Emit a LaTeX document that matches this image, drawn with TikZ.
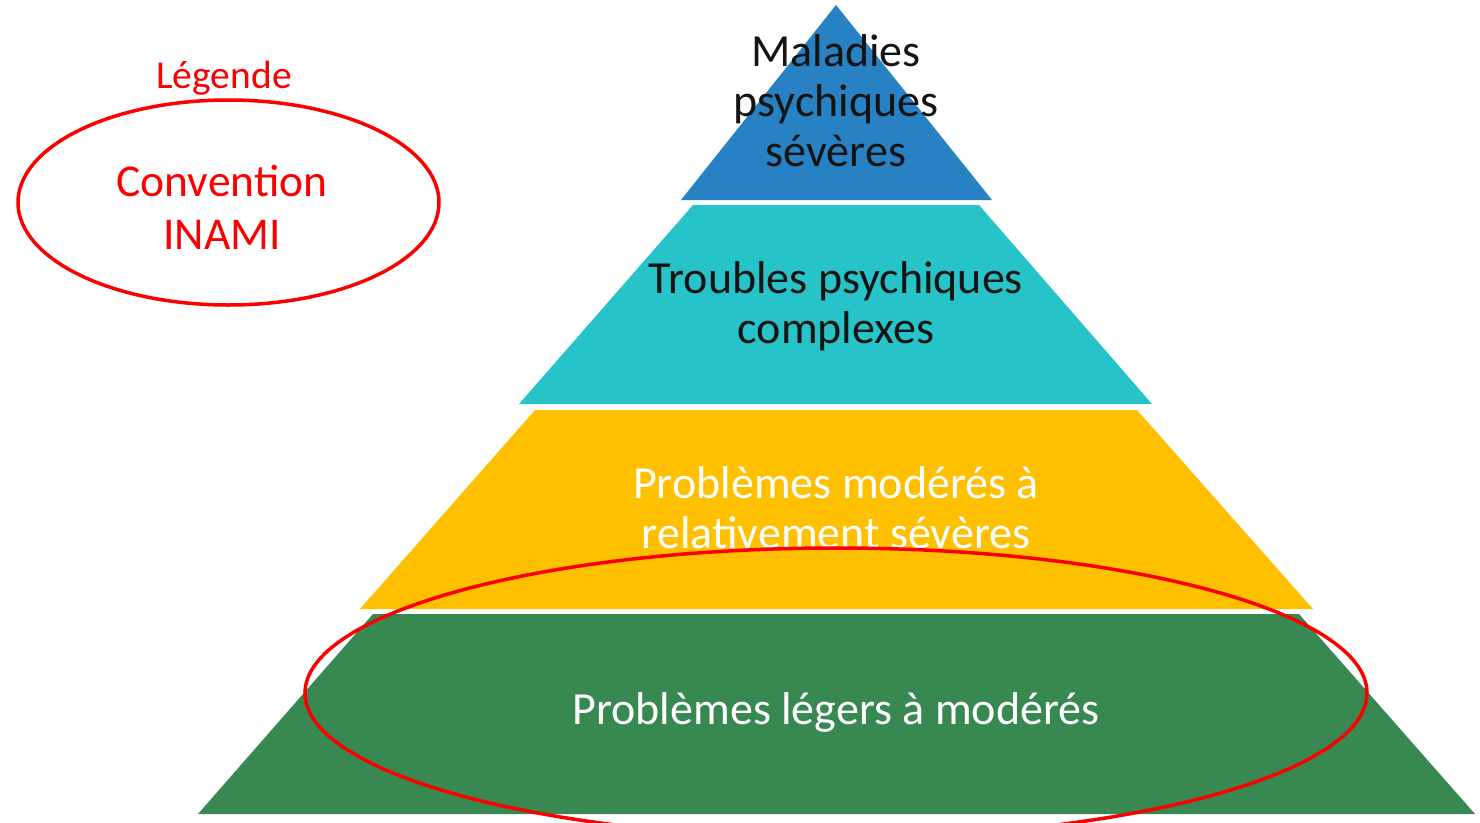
\documentclass[tikz,border=0pt]{standalone}
\usepackage{fontspec}
\setmainfont{Carlito}
\definecolor{cblue}{RGB}{39,129,195}
\definecolor{cteal}{RGB}{38,195,200}
\definecolor{cyellow}{RGB}{255,192,0}
\definecolor{cgreen}{RGB}{56,136,82}
\definecolor{cred}{RGB}{250,0,0}
\definecolor{ctext}{RGB}{20,20,20}
\tikzset{
  lbl/.style={align=center, inner sep=0pt, font=\fontsize{46}{50}\selectfont},
  redring/.style={draw=cred, line width=3.5pt},
}
\begin{document}
\begin{tikzpicture}[x=1pt,y=-1pt]
\useasboundingbox (0,0) rectangle (1480,822);
\clip (0,0) rectangle (1480,822);
\fill[white] (0,0) rectangle (1480,822);
% pyramid layers
\fill[cblue]   (836,5) -- (992,200) -- (681,200) -- cycle;
\fill[cteal]   (693,205) -- (979,205) -- (1152,404) -- (519,404) -- cycle;
\fill[cyellow] (535,410) -- (1137,410) -- (1313,609) -- (360,609) -- cycle;
\fill[cgreen]  (373,614) -- (1299,614) -- (1475,814) -- (198,814) -- cycle;
% labels
\node[lbl, text=ctext] (l1) at (836,101) {Maladies\\psychiques\\sévères};
\node[lbl, text=ctext] (l2) at (836,306) {Troubles psychiques\\complexes};
\node[lbl, text=white] (l3) at (836,508) {Problèmes modérés à\\relativement sévères};
\node[lbl, text=white] (l4) at (836,712) {Problèmes légers à modérés};
% big red ellipse
\draw[redring] (836,693) ellipse [x radius=531, y radius=145];
% legend
\node[inner sep=0pt, text=cred, font=\fontsize{39.5}{44}\selectfont] (leg) at (224,78) {Légende};
\draw[redring] (228.5,202.5) ellipse [x radius=210.5, y radius=102.5];
\node[lbl, text=cred, font=\fontsize{45.5}{53}\selectfont] (conv) at (222,207) {Convention\\INAMI};
\end{tikzpicture}
\end{document}
